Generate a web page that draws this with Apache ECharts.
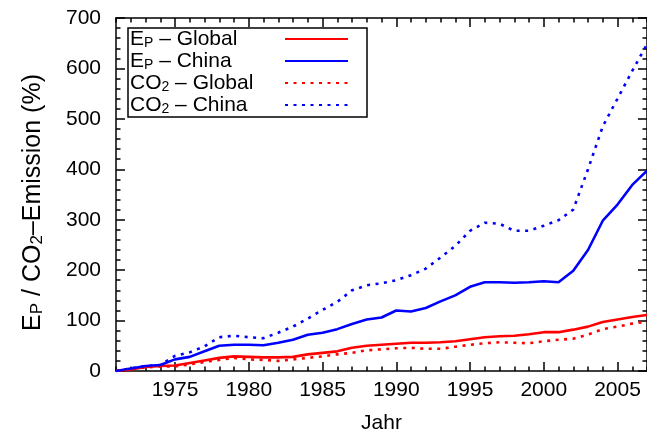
<!DOCTYPE html>
<html>
<head>
<meta charset="utf-8">
<script src="https://cdn.jsdelivr.net/npm/echarts@6/dist/echarts.min.js"></script>
<style>
html,body{margin:0;padding:0;background:#fff;}
#chart{width:647px;height:439px;}
</style>
</head>
<body>
<div id="chart"></div>
<script>
const years = ['1971','1972','1973','1974','1975','1976','1977','1978','1979','1980',
  '1981','1982','1983','1984','1985','1986','1987','1988','1989','1990',
  '1991','1992','1993','1994','1995','1996','1997','1998','1999','2000',
  '2001','2002','2003','2004','2005','2006','2007'];
const epGlobal = [0,3,8,10,11,16,21,26,29,28,27,27,28,33,36,39,46,50,52,54,
  56,56,57,59,63,67,69,70,73,77,77,82,88,97,102,107,111];
const epChina = [0,5,10,12,23,28,39,50,52,52,51,56,62,72,76,83,93,102,106,120,
  118,125,138,150,167,176,176,175,176,178,176,199,240,298,330,369,397];
const co2Global = [0,3,7,9,9,13,18,22,26,23,22,20,23,26,29,33,36,41,43,45,
  46,44,44,48,52,55,57,56,55,59,62,64,72,83,88,94,98];
const co2China = [0,5,10,12,30,37,49,67,70,67,65,76,88,104,121,137,160,170,174,180,
  190,203,225,248,278,294,292,278,278,288,299,320,400,485,540,595,648];
const yMin = 0, yMax = 700, yStep = 100;

const FONT = '"Liberation Sans", Arial, Helvetica, sans-serif';
const FS = 21;
const major = (i, v) => Number(v) % 5 === 0;

const legendNames = {
  'EP Global': '{n|E}{s|P}{n| – Global}',
  'EP China': '{n|E}{s|P}{n| – China}',
  'CO2 Global': '{n|CO}{s|2}{n| – Global}',
  'CO2 China': '{n|CO}{s|2}{n| – China}'
};
const richLegend = {
  n: {fontSize: FS, fontFamily: FONT, color: '#000', lineHeight: 22, verticalAlign: 'bottom', align: 'left'},
  s: {fontSize: 14, fontFamily: FONT, color: '#000', lineHeight: 8, verticalAlign: 'bottom', align: 'left'}
};
const richTitle = {
  n: {fontSize: 25, fontFamily: FONT, color: '#000', lineHeight: 27, verticalAlign: 'bottom'},
  s: {fontSize: 17, fontFamily: FONT, color: '#000', lineHeight: 10, verticalAlign: 'bottom'}
};

const axisLineStyle = {color: '#000', width: 1.5};
function xAx(pos, isMajor, labels) {
  return {
    type: 'category', data: years, boundaryGap: false, position: pos, gridIndex: 0,
    axisLine: {show: isMajor, lineStyle: axisLineStyle},
    axisTick: {show: true, inside: true, length: isMajor ? 9 : 4.5,
      interval: isMajor ? major : 0, lineStyle: {color: '#000', width: 1.5}},
    axisLabel: {show: labels, interval: major, margin: 9, fontSize: FS, fontFamily: FONT, color: '#000'},
    splitLine: {show: false},
    name: labels ? 'Jahr' : '', nameLocation: 'middle', nameGap: 42,
    nameTextStyle: {fontSize: FS, fontFamily: FONT, color: '#000'}
  };
}
function yAx(pos, labels) {
  return {
    type: 'value', min: yMin, max: yMax, interval: yStep, position: pos,
    axisLine: {show: true, lineStyle: axisLineStyle},
    axisTick: {show: true, inside: true, length: 9, lineStyle: {color: '#000', width: 1.5}},
    minorTick: {show: true, splitNumber: 5, length: 4.5, lineStyle: {color: '#000', width: 1.5}},
    axisLabel: {show: labels, margin: 15, fontSize: FS, fontFamily: FONT, color: '#000'},
    splitLine: {show: false},
    name: labels ? '{n|E}{s|P}{n| / CO}{s|2}{n|–Emission (%)}' : '',
    nameLocation: 'middle', nameGap: 70,
    nameTextStyle: {rich: richTitle, padding: [0, 16, 0, 0]}
  };
}

function line(name, data, color, dotted) {
  return {
    name: name, type: 'line', data: data, symbol: 'none', xAxisIndex: 0, yAxisIndex: 0,
    lineStyle: {color: color, width: 2.6, type: dotted ? [3, 5.5] : 'solid', cap: 'butt'},
    itemStyle: {color: color}
  };
}

const chart = echarts.init(document.getElementById('chart'), null, {renderer: 'canvas'});
chart.setOption({
  animation: false,
  backgroundColor: '#fff',
  grid: {left: 116, top: 18, width: 532, height: 357, containLabel: false},
  xAxis: [xAx('bottom', true, true), xAx('bottom', false, false), xAx('top', true, false), xAx('top', false, false)],
  yAxis: [yAx('left', true), yAx('right', false)],
  legend: {
    orient: 'vertical', left: 128, top: 28, align: 'right',
    itemWidth: 63, itemHeight: 22, itemGap: 1,
    padding: [1, 18, 1, 2],
    borderColor: '#000', borderWidth: 1.5,
    itemStyle: {opacity: 0},
    data: ['EP Global', 'EP China', 'CO2 Global', 'CO2 China'],
    formatter: name => legendNames[name],
    textStyle: {width: 150, align: 'left', rich: richLegend}
  },
  series: [
    line('EP Global', epGlobal, '#ff0000', false),
    line('EP China', epChina, '#0000ff', false),
    line('CO2 Global', co2Global, '#ff0000', true),
    line('CO2 China', co2China, '#0000ff', true)
  ]
});
</script>
</body>
</html>
